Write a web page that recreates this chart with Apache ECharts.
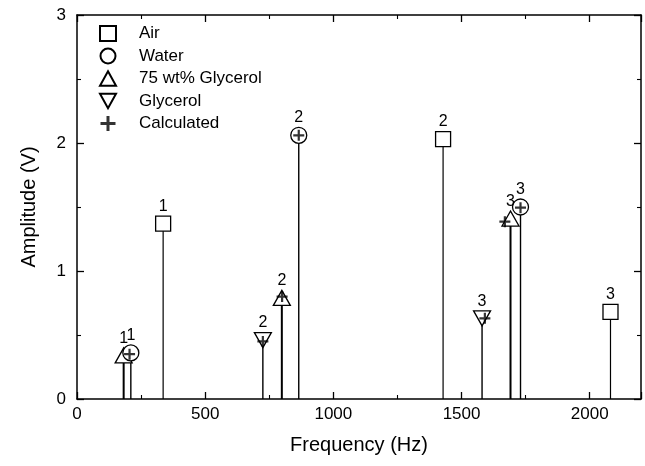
<!DOCTYPE html>
<html>
<head>
<meta charset="utf-8">
<script src="https://cdn.jsdelivr.net/npm/echarts@6/dist/echarts.min.js"></script>
<style>html,body{margin:0;padding:0;background:#fff}#c{width:645px;height:466px}</style>
</head>
<body>
<div id="c"></div>
<script>
var airFreq = [336, 1428, 2081];
var airAmp = [1.37, 2.03, 0.68];
var airMode = [1, 2, 3];
var waterFreq = [210, 865, 1730];
var waterAmp = [0.36, 2.06, 1.50];
var waterMode = [1, 2, 3];
var gly75Freq = [182, 799, 1691];
var gly75Amp = [0.34, 0.79, 1.41];
var gly75Mode = [1, 2, 3];
var glyFreq = [725, 1580];
var glyAmp = [0.46, 0.63];
var glyMode = [2, 3];
var calcFreq = [205, 725, 800, 865, 1591, 1669, 1730];
var calcAmp = [0.35, 0.45, 0.80, 2.06, 0.63, 1.385, 1.495];
var xTicks = [0, 500, 1000, 1500, 2000];
var yTicks = [0, 1, 2, 3];

function pts(f, a, m) {
  return f.map(function (v, i) { return m ? [v, a[i], m[i]] : [v, a[i]]; });
}
var FONT = 'Liberation Sans, Arial, sans-serif';
var openStyle = { color: '#fff', borderColor: '#000', borderWidth: 1.3, opacity: 1 };
var triDown = 'path://M0,0L20,0L10,18Z';
var triUp = 'path://M10,0L20,18L0,18Z';
var plus = 'path://M4,0H6V4H10V6H6V10H4V6H0V4H4Z';

function stems(name, f, a, w) {
  return {
    type: 'custom', name: name + ' stem', z: 1, silent: true,
    data: pts(f, a),
    renderItem: function (params, api) {
      var p0 = api.coord([api.value(0), 0]);
      var p1 = api.coord([api.value(0), api.value(1)]);
      return { type: 'line', shape: { x1: p0[0], y1: p0[1], x2: p1[0], y2: p1[1] },
        style: { stroke: '#000', lineWidth: w } };
    }
  };
}
function lab() {
  return { show: true, position: 'top', distance: 1, color: '#000', fontSize: 16, fontFamily: FONT,
    formatter: function (p) { return p.value[2]; } };
}
function scat(name, f, a, m, sym, size) {
  return { type: 'scatter', name: name, z: 3, symbol: sym, symbolSize: size,
    data: pts(f, a, m), itemStyle: openStyle, label: lab() };
}

var axisCommon = {
  type: 'value',
  axisLine: { show: true, onZero: false, lineStyle: { color: '#000', width: 1.5 } },
  axisTick: { show: true, inside: true, length: 7, lineStyle: { color: '#000', width: 1.3 } },
  minorTick: { show: true, splitNumber: 2, length: 4, lineStyle: { color: '#000', width: 1.1 } },
  splitLine: { show: false }
};

var option = {
  animation: false,
  backgroundColor: '#fff',
  grid: { left: 77, right: 4, top: 15, bottom: 67, containLabel: false, outerBoundsMode: 'none' },
  legend: {
    orient: 'vertical', left: 94, top: 20,
    itemWidth: 16, itemHeight: 15, itemGap: 5.5,
    data: ['Air', 'Water', '75 wt% Glycerol', 'Glycerol', 'Calculated'],
    textStyle: { fontSize: 17, fontFamily: FONT, color: '#000', padding: [0, 0, 0, 18] },
    selectedMode: false
  },
  xAxis: [
    Object.assign({}, axisCommon, {
      min: 0, max: 2200, interval: 500, position: 'bottom',
      axisLabel: { color: '#000', fontSize: 17, fontFamily: FONT, margin: 7, showMaxLabel: false,
        formatter: function (v) { return xTicks.indexOf(v) >= 0 ? String(v) : ''; } },
      name: 'Frequency (Hz)', nameLocation: 'middle', nameGap: 36,
      nameTextStyle: { fontSize: 20, fontFamily: FONT, color: '#000' }
    }),
    Object.assign({}, axisCommon, {
      min: 0, max: 2200, interval: 500, position: 'top', axisLabel: { show: false }
    })
  ],
  yAxis: [
    Object.assign({}, axisCommon, {
      min: 0, max: 3, interval: 1, position: 'left',
      axisLabel: { color: '#000', fontSize: 17, fontFamily: FONT, margin: 11,
        formatter: function (v) { return yTicks.indexOf(v) >= 0 ? String(v) : ''; } },
      name: 'Amplitude (V)', nameLocation: 'middle', nameGap: 38,
      nameTextStyle: { fontSize: 20, fontFamily: FONT, color: '#000' }
    }),
    Object.assign({}, axisCommon, {
      min: 0, max: 3, interval: 1, position: 'right', axisLabel: { show: false }
    })
  ],
  series: [
    stems('Air', airFreq, airAmp, 1.2),
    stems('Water', waterFreq, waterAmp, 1.4),
    stems('75 wt% Glycerol', gly75Freq, gly75Amp, 2),
    stems('Glycerol', glyFreq, glyAmp, 1.4),
    scat('Air', airFreq, airAmp, airMode, 'rect', 15),
    scat('75 wt% Glycerol', gly75Freq, gly75Amp, gly75Mode, triUp, [17, 15]),
    scat('Water', waterFreq, waterAmp, waterMode, 'circle', 16),
    scat('Glycerol', glyFreq, glyAmp, glyMode, triDown, [17, 15]),
    { type: 'scatter', name: 'Calculated', z: 4, symbol: plus, symbolSize: 11,
      data: pts(calcFreq, calcAmp), itemStyle: { color: '#000' } }
  ]
};
var chart = echarts.init(document.getElementById('c'), null, { renderer: 'canvas' });
chart.setOption(option);
</script>
</body>
</html>
